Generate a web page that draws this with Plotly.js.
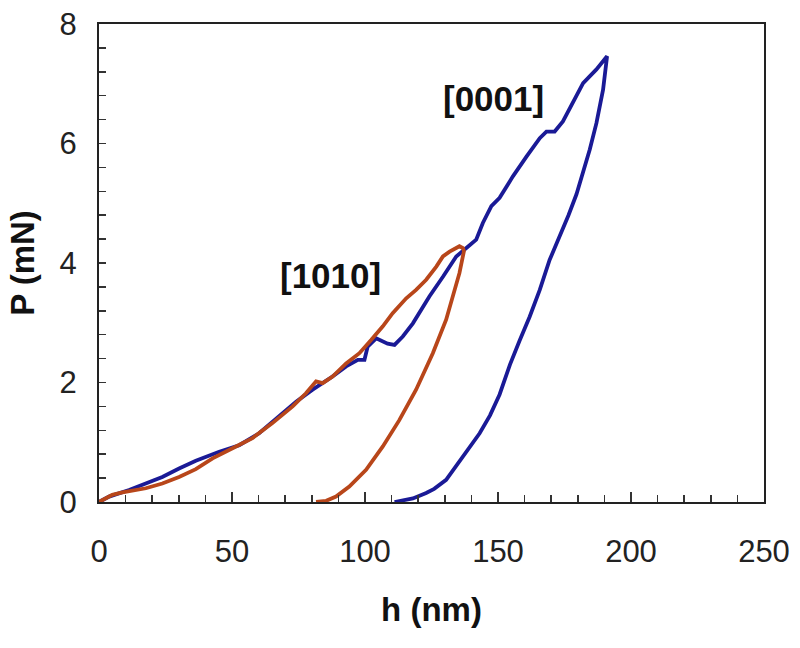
<!DOCTYPE html>
<html>
<head>
<meta charset="utf-8">
<script src="https://cdn.plot.ly/plotly-3.0.1.min.js"></script>
<style>html,body{margin:0;padding:0;background:#fff;}#chart{width:800px;height:648px;}</style>
</head>
<body>
<div id="chart"></div>
<script>
// [0001] orientation: loading then unloading (h in nm, P in mN)
var h0001 = [0, 3.8, 11.3, 17.6, 23.8, 30.1, 36.4, 45.2, 52.7, 60.2, 67.8, 74.1, 80.3, 87.8, 92.9, 97.3, 99.8, 101, 104.2, 105.4, 108.5, 111.1, 114.2, 118, 124.2, 129.3, 134.3, 138.1, 141.8, 144.3, 147.5, 150.6, 155.6, 160.7, 165.7, 168.2, 171.3, 174.4, 178.2, 182, 187, 191.0,
             189.5, 187, 184.5, 182, 179.5, 176.5, 173.2, 169.4, 165.7, 161.9, 158.1, 154.5, 150.6, 147, 143.1, 139, 135.5, 130.5, 126, 123, 118, 111.1];
var P0001 = [0, 0.09, 0.20, 0.31, 0.42, 0.56, 0.69, 0.84, 0.95, 1.15, 1.43, 1.68, 1.88, 2.10, 2.27, 2.38, 2.38, 2.60, 2.74, 2.71, 2.65, 2.63, 2.77, 2.99, 3.44, 3.77, 4.11, 4.25, 4.39, 4.67, 4.95, 5.09, 5.45, 5.78, 6.09, 6.20, 6.20, 6.37, 6.68, 7.01, 7.24, 7.46,
             6.90, 6.34, 5.90, 5.50, 5.15, 4.80, 4.45, 4.05, 3.55, 3.10, 2.70, 2.30, 1.80, 1.45, 1.15, 0.90, 0.70, 0.37, 0.22, 0.15, 0.06, 0.0];

// [1010] orientation
var h1010 = [0, 5.0, 8.8, 17.6, 23.8, 30.1, 36.4, 42.7, 50.2, 57.7, 65.2, 72.8, 77.8, 81.6, 84.1, 87.8, 92.9, 97.9, 102.3, 106.7, 110.4, 115.5, 119.2, 123, 126.8, 129.3, 131.8, 135.5, 136.8,
             137.2, 135.5, 133.5, 130.5, 125.5, 119.2, 112.9, 106.7, 100.4, 94.1, 89.1, 85.4, 81.6];
var P1010 = [0, 0.12, 0.16, 0.23, 0.31, 0.42, 0.55, 0.73, 0.90, 1.07, 1.32, 1.60, 1.82, 2.02, 1.99, 2.10, 2.32, 2.49, 2.71, 2.94, 3.16, 3.41, 3.55, 3.72, 3.94, 4.11, 4.19, 4.28, 4.25,
             4.20, 3.83, 3.50, 3.05, 2.49, 1.88, 1.37, 0.93, 0.54, 0.26, 0.09, 0.02, 0.0];

var labels = ['[0001]', '[1010]'];
var labelX = [148.2, 87.2];
var labelY = [6.75, 3.79];

var tickFont = {family: '"Liberation Sans Narrow", "Liberation Sans", Arial, sans-serif', size: 31, color: '#222'};
var boldFont = {family: '"Liberation Sans", Arial, sans-serif', size: 33, color: '#111', weight: 'bold'};

var traces = [
  {x: h0001, y: P0001, mode: 'lines', name: labels[0], line: {color: '#1a1a96', width: 3.8, shape: 'linear'}},
  {x: h1010, y: P1010, mode: 'lines', name: labels[1], line: {color: '#b8461a', width: 3.8, shape: 'linear'}}
];

var layout = {
  width: 800, height: 648,
  margin: {l: 99, r: 36, t: 24, b: 146},
  paper_bgcolor: '#fff', plot_bgcolor: '#fff',
  showlegend: false,
  xaxis: {
    range: [0, 250], dtick: 50, tick0: 0,
    ticks: 'inside', ticklen: 10, tickwidth: 1.5, tickcolor: '#333',
    minor: {dtick: 10, ticks: 'inside', ticklen: 7, tickwidth: 1.5, tickcolor: '#333'},
    showline: true, linecolor: '#222', linewidth: 2, mirror: true,
    showgrid: false, zeroline: false,
    tickfont: tickFont, ticklabelstandoff: 21,
    title: {text: 'h (nm)', font: boldFont, standoff: 30}
  },
  yaxis: {
    range: [0, 8], dtick: 2, tick0: 0,
    ticks: 'inside', ticklen: 7, tickwidth: 1.5, tickcolor: '#333',
    minor: {dtick: 0.4, ticks: 'inside', ticklen: 7, tickwidth: 1.5, tickcolor: '#333'},
    showline: true, linecolor: '#222', linewidth: 2, mirror: true,
    showgrid: false, zeroline: false,
    tickfont: tickFont, ticklabelstandoff: 14,
    title: {text: 'P (mN)', font: boldFont, standoff: 15}
  },
  annotations: labels.map(function (t, i) {
    return {x: labelX[i], y: labelY[i], xref: 'x', yref: 'y', text: t, showarrow: false,
            font: {family: '"Liberation Sans", Arial, sans-serif', size: 35, color: '#111', weight: 'bold'}};
  })
};

Plotly.newPlot('chart', traces, layout, {displayModeBar: false, staticPlot: true});
</script>
</body>
</html>
